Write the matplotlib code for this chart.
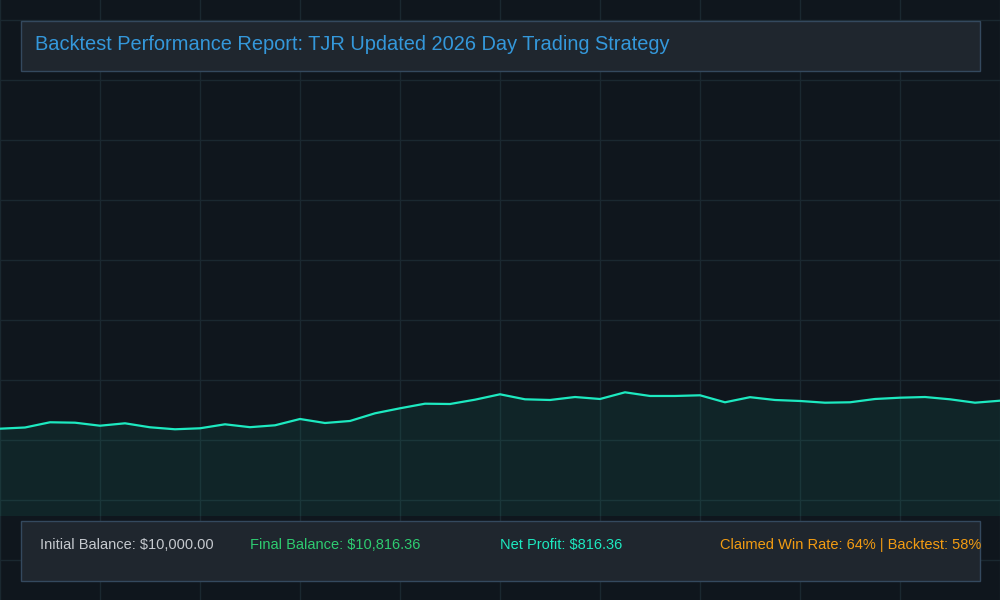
import matplotlib
matplotlib.use("Agg")
import matplotlib.pyplot as plt
from matplotlib.patches import Rectangle

# ---- data ----
trade_index = list(range(41))
balance = [10000, 10035, 10187, 10175, 10087, 10157, 10041, 9983, 10012, 10128,
           10044, 10099, 10283, 10166, 10225, 10449, 10595, 10729, 10720, 10846,
           11003, 10857, 10837, 10924, 10866, 11061, 10954, 10954, 10974, 10770,
           10919, 10837, 10808, 10758, 10770, 10866, 10904, 10924, 10857, 10758,
           10816.36]
title_text = "Backtest Performance Report: TJR Updated 2026 Day Trading Strategy"
stat_labels = ["Initial Balance: $10,000.00", "Final Balance: $10,816.36",
               "Net Profit: $816.36", "Claimed Win Rate: 64% | Backtest: 58%"]

# ---- style ----
BG = "#0f161d"
GRID = "#1a2830"
LINE = "#1de9c0"
BOX_FACE = "#1f262e"
BOX_EDGE = "#34495e"
stat_colors = ["#c5c9ce", "#2ecc71", "#1de9c0", "#f39c12"]
stat_x = [40, 250, 500, 720]

plt.rcParams['font.family'] = ['Liberation Sans', 'DejaVu Sans']

fig = plt.figure(figsize=(10, 6), dpi=100, facecolor=BG)

# background grid (pixel coordinates)
ax_bg = fig.add_axes([0, 0, 1, 1])
ax_bg.set_facecolor(BG)
ax_bg.set_xlim(0, 1000)
ax_bg.set_ylim(600, 0)
ax_bg.set_xticks(range(0, 1001, 100))
ax_bg.set_yticks(range(20, 600, 60))
ax_bg.grid(True, color=GRID, linewidth=1)
ax_bg.tick_params(length=0, labelbottom=False, labelleft=False)
for s in ax_bg.spines.values():
    s.set_visible(False)

# data axes
ax = fig.add_axes([0, 84 / 600, 1, 516 / 600])
ax.patch.set_alpha(0)
y_lo, y_hi = 7454, 22501
ax.set_xlim(trade_index[0], trade_index[-1])
ax.set_ylim(y_lo, y_hi)
ax.fill_between(trade_index, balance, y_lo, color="#1de9b6", alpha=0.075, linewidth=0)
ax.plot(trade_index, balance, color=LINE, linewidth=1.6, solid_joinstyle='round')
ax.axis('off')

# overlay for boxes and text
ax_ov = fig.add_axes([0, 0, 1, 1])
ax_ov.patch.set_alpha(0)
ax_ov.set_xlim(0, 1000)
ax_ov.set_ylim(600, 0)
ax_ov.axis('off')

ax_ov.add_patch(Rectangle((20.5, 20.5), 959, 50, facecolor=BOX_FACE, edgecolor=BOX_EDGE, linewidth=1))
ax_ov.text(35, 44, title_text, color="#3498db", fontsize=14.4, va='center', ha='left')

ax_ov.add_patch(Rectangle((20.5, 520.5), 959, 60, facecolor=BOX_FACE, edgecolor=BOX_EDGE, linewidth=1))
for lbl, col, xp in zip(stat_labels, stat_colors, stat_x):
    ax_ov.text(xp, 545, lbl, color=col, fontsize=10.5, va='center', ha='left')

fig.savefig("out.png", dpi=100, facecolor=BG)
